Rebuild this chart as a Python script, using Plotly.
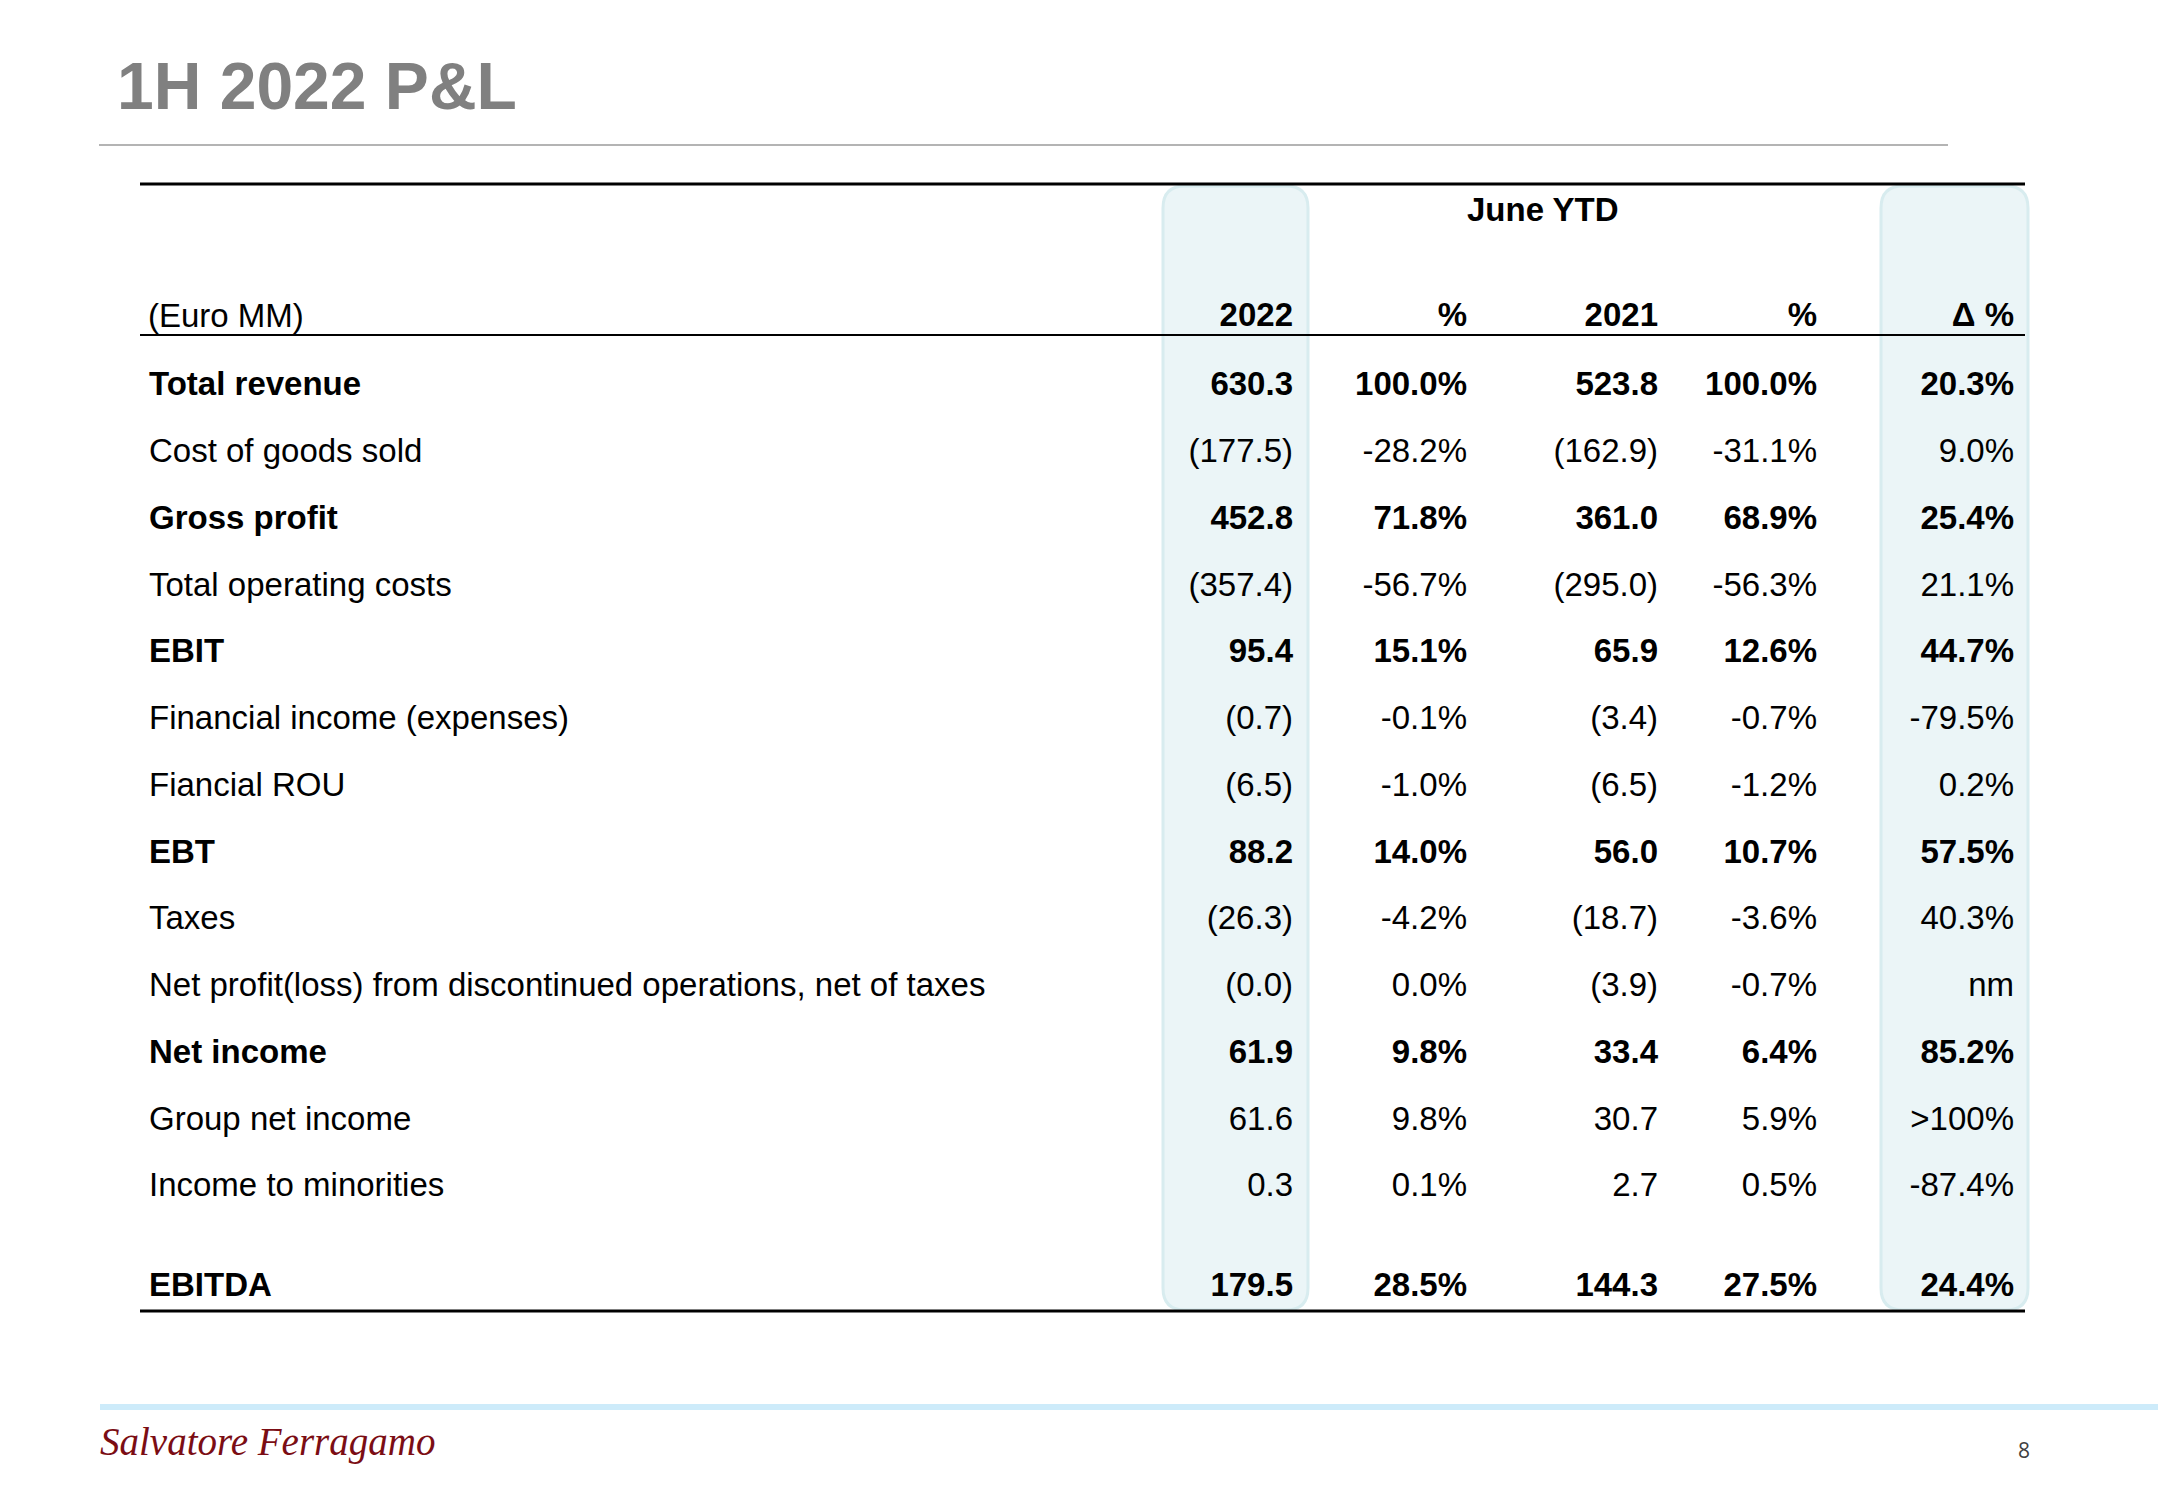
import math
import plotly.graph_objects as go

# ---------------- data ----------------
row_labels = [
    "Total revenue", "Cost of goods sold", "Gross profit", "Total operating costs",
    "EBIT", "Financial income (expenses)", "Fiancial ROU", "EBT", "Taxes",
    "Net profit(loss) from discontinued operations, net of taxes",
    "Net income", "Group net income", "Income to minorities", "EBITDA",
]
bold_rows = [True, False, True, False, True, False, False, True, False, False,
             True, False, False, True]
val_2022 = [630.3, -177.5, 452.8, -357.4, 95.4, -0.7, -6.5, 88.2, -26.3, -0.0,
            61.9, 61.6, 0.3, 179.5]
pct_2022 = [100.0, -28.2, 71.8, -56.7, 15.1, -0.1, -1.0, 14.0, -4.2, 0.0,
            9.8, 9.8, 0.1, 28.5]
val_2021 = [523.8, -162.9, 361.0, -295.0, 65.9, -3.4, -6.5, 56.0, -18.7, -3.9,
            33.4, 30.7, 2.7, 144.3]
pct_2021 = [100.0, -31.1, 68.9, -56.3, 12.6, -0.7, -1.2, 10.7, -3.6, -0.7,
            6.4, 5.9, 0.5, 27.5]
delta_pct = [20.3, 9.0, 25.4, 21.1, 44.7, -79.5, 0.2, 57.5, 40.3, None,
             85.2, None, -87.4, 24.4]
delta_special = {9: "nm", 11: ">100%"}
col_headers = ["2022", "%", "2021", "%", "Δ %"]
group_header = "June YTD"
unit_label = "(Euro MM)"
title_text = "1H 2022 P&L"

# ---------------- layout constants ----------------
W, H = 2166, 1500
PAD = 8  # default HTML body margin
FONT = "Liberation Sans, Arial, sans-serif"
BODY = 33
ROW_Y0, ROW_DY, EBITDA_GAP = 387, 66.75, 33.25
HEADER_Y = 318
LABEL_X = 149
COL_RIGHT = [1293, 1467, 1658, 1817, 2014]
TABLE_X0, TABLE_X1 = 140, 2025


def fmt_val(v):
    if math.copysign(1, v) < 0:
        return f"({abs(v):.1f})"
    return f"{v:.1f}"


def fmt_pct(v):
    return f"{v:.1f}%"


def b(s, on):
    return f"<b>{s}</b>" if on else s


n = len(row_labels)
row_y = [ROW_Y0 + i * ROW_DY + (EBITDA_GAP if i == n - 1 else 0) for i in range(n)]

columns = [
    [fmt_val(v) for v in val_2022],
    [fmt_pct(v) for v in pct_2022],
    [fmt_val(v) for v in val_2021],
    [fmt_pct(v) for v in pct_2021],
    [delta_special[i] if d is None else fmt_pct(d) for i, d in enumerate(delta_pct)],
]

fig = go.Figure()

# row labels
fig.add_trace(go.Scatter(
    x=[LABEL_X] * n, y=row_y, mode="text",
    text=[b(t, bo) for t, bo in zip(row_labels, bold_rows)],
    textposition="middle right",
    textfont=dict(family=FONT, size=BODY, color="#000000"),
    hoverinfo="skip",
))

for cx, col in zip(COL_RIGHT, columns):
    fig.add_trace(go.Scatter(
        x=[cx] * n, y=row_y, mode="text",
        text=[b(t, bo) for t, bo in zip(col, bold_rows)],
        textposition="middle left",
        textfont=dict(family=FONT, size=BODY, color="#000000"),
        hoverinfo="skip",
    ))

# header texts
fig.add_trace(go.Scatter(
    x=COL_RIGHT, y=[HEADER_Y] * len(COL_RIGHT), mode="text",
    text=[f"<b>{h}</b>" for h in col_headers],
    textposition="middle left",
    textfont=dict(family=FONT, size=BODY, color="#000000"),
    hoverinfo="skip",
))

annotations = [
    dict(x=LABEL_X - 3, y=315, text=unit_label, xanchor="left", yanchor="middle",
         showarrow=False, font=dict(family=FONT, size=BODY, color="#000000")),
    dict(x=1543, y=209, text=f"<b>{group_header}</b>", xanchor="center", yanchor="middle",
         showarrow=False, font=dict(family=FONT, size=BODY, color="#000000")),
    dict(x=115, y=86, text=f"<b>{title_text}</b>", xanchor="left", yanchor="middle",
         showarrow=False, font=dict(family=FONT, size=66, color="#808080")),
    dict(x=2024, y=1450, text="8", xanchor="center", yanchor="middle",
         showarrow=False, font=dict(family="Open Sans, sans-serif", size=21, color="#404040")),
    dict(x=98, y=1442, text="<i>Salvatore Ferragamo</i>", xanchor="left", yanchor="middle",
         showarrow=False, font=dict(family="Liberation Serif, serif", size=39, color="#7b0d14")),
]
for a in annotations:
    a["xref"] = "x"
    a["yref"] = "y"


def rounded_rect(x0, y0, x1, y1, r):
    return (f"M {x0+r},{y0} L {x1-r},{y0} Q {x1},{y0} {x1},{y0+r} "
            f"L {x1},{y1-r} Q {x1},{y1} {x1-r},{y1} L {x0+r},{y1} "
            f"Q {x0},{y1} {x0},{y1-r} L {x0},{y0+r} Q {x0},{y0} {x0+r},{y0} Z")


shapes = []
for bx0, bx1 in [(1163, 1308), (1881, 2028)]:
    shapes.append(dict(type="path", path=rounded_rect(bx0, 186, bx1, 1310, 22),
                       xref="x", yref="y", fillcolor="#ebf5f7",
                       line=dict(color="#d8ecef", width=3), layer="below"))
# title underline
shapes.append(dict(type="line", x0=99, x1=1948, y0=145, y1=145, xref="x", yref="y",
                   line=dict(color="#b4b4b4", width=2)))
# table rules
shapes.append(dict(type="line", x0=TABLE_X0, x1=TABLE_X1, y0=184, y1=184, xref="x", yref="y",
                   line=dict(color="#000000", width=3)))
shapes.append(dict(type="line", x0=TABLE_X0, x1=TABLE_X1, y0=335, y1=335, xref="x", yref="y",
                   line=dict(color="#000000", width=2)))
shapes.append(dict(type="line", x0=TABLE_X0, x1=TABLE_X1, y0=1311, y1=1311, xref="x", yref="y",
                   line=dict(color="#000000", width=3)))
# footer light blue line
shapes.append(dict(type="line", x0=100, x1=W, y0=1407, y1=1407, xref="x", yref="y",
                   line=dict(color="#cdebfa", width=6)))

fig.update_layout(
    width=W - 2 * PAD, height=H - 2 * PAD, margin=dict(l=0, r=0, t=0, b=0),
    paper_bgcolor="white", plot_bgcolor="white",
    showlegend=False, hovermode=False,
    xaxis=dict(range=[PAD, W - PAD], visible=False, fixedrange=True),
    yaxis=dict(range=[H - PAD, PAD], visible=False, fixedrange=True),
    shapes=shapes, annotations=annotations,
)

fig.write_html("out.html", config={"displayModeBar": False})
